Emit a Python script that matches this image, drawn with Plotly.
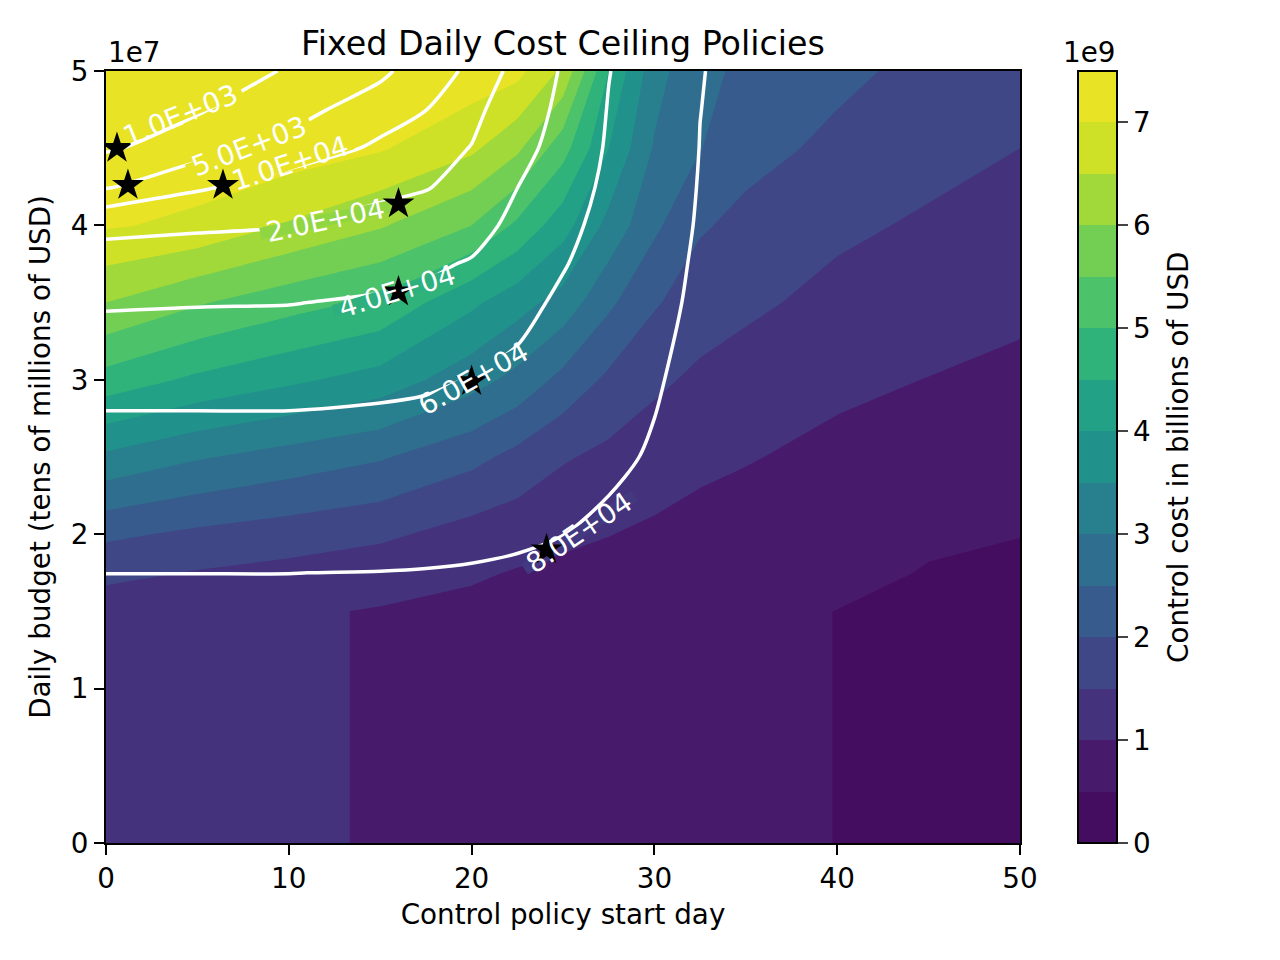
import numpy as np
import plotly.graph_objects as go

# control cost surface, billions of USD (rows follow cost_budgets, columns cost_days)
cost_days = [0, 5, 10, 15, 20, 22.5, 25, 27.5, 30, 32.5, 35, 40, 45, 50]
cost_budgets = [0, 1.5e7, 1.75e7, 2.0e7, 2.5e7, 3.0e7, 3.5e7, 4.0e7, 4.5e7, 5.0e7]
cost = [
    [1.25, 1.16, 1.06, 0.97, 0.88, 0.83, 0.78, 0.73, 0.69, 0.64, 0.59, 0.495, 0.41, 0.31],
    [1.25, 1.16, 1.06, 0.97, 0.88, 0.83, 0.78, 0.73, 0.69, 0.64, 0.59, 0.495, 0.41, 0.31],
    [1.62, 1.47, 1.35, 1.20, 1.06, 0.97, 0.92, 0.86, 0.80, 0.74, 0.68, 0.60, 0.48, 0.41],
    [2.10, 1.90, 1.75, 1.60, 1.30, 1.20, 1.08, 1.01, 0.93, 0.85, 0.79, 0.68, 0.55, 0.51],
    [3.40, 3.05, 2.80, 2.55, 2.15, 1.85, 1.55, 1.38, 1.22, 1.10, 1.03, 0.88, 0.75, 0.70],
    [4.80, 4.40, 4.10, 3.80, 3.20, 2.85, 2.35, 1.90, 1.60, 1.40, 1.28, 1.10, 0.99, 0.89],
    [6.00, 5.55, 5.20, 4.90, 4.10, 3.70, 3.30, 2.60, 2.05, 1.75, 1.60, 1.35, 1.22, 1.10],
    [7.05, 6.90, 6.45, 6.05, 5.50, 4.90, 4.20, 3.35, 2.60, 2.05, 1.88, 1.60, 1.43, 1.30],
    [7.30, 7.30, 7.28, 7.05, 6.60, 6.10, 5.20, 4.00, 2.95, 2.52, 2.15, 1.90, 1.67, 1.50],
    [7.45, 7.45, 7.42, 7.38, 7.30, 7.15, 6.40, 4.50, 3.20, 2.60, 2.42, 2.10, 1.88, 1.70],
]

# infections surface for the white contour lines
inf_days = [0, 5, 10, 15, 17.5, 20, 22.5, 25, 27.5, 30, 32.5, 35, 50]
inf_budgets = [0, 1.5e7, 1.75e7, 2.0e7, 2.5e7, 3.0e7, 3.5e7, 3.75e7, 4.0e7, 4.25e7, 4.5e7, 4.75e7, 5.0e7]
infections = [
    [90e3, 90e3, 90e3, 90e3, 90e3, 90e3, 90e3, 90e3, 90e3, 90e3, 90e3, 90e3, 91e3],
    [82e3, 82e3, 82e3, 82e3, 82.5e3, 83e3, 84e3, 85e3, 86e3, 87e3, 88e3, 89e3, 90.5e3],
    [79.95e3, 79.95e3, 79.95e3, 80.2e3, 80.5e3, 81e3, 82e3, 83e3, 84.5e3, 86e3, 87.5e3, 88.5e3, 90e3],
    [75e3, 75e3, 75e3, 75.5e3, 76e3, 77e3, 78e3, 79.9e3, 82e3, 84.5e3, 86.5e3, 88e3, 89.5e3],
    [66e3, 66e3, 66e3, 67e3, 68e3, 69e3, 71e3, 75e3, 78e3, 81e3, 85e3, 87e3, 89e3],
    [56e3, 56e3, 56e3, 57e3, 58e3, 60.5e3, 64e3, 69e3, 73e3, 79e3, 83.5e3, 86e3, 88.5e3],
    [38e3, 39e3, 39.5e3, 42e3, 44e3, 48e3, 55e3, 63e3, 69e3, 77e3, 82e3, 85e3, 88e3],
    [29e3, 30e3, 31e3, 34e3, 37e3, 41.5e3, 50e3, 59e3, 67.5e3, 76e3, 81.5e3, 84.5e3, 87.8e3],
    [15e3, 17.5e3, 19.5e3, 25e3, 29e3, 33e3, 45e3, 55e3, 66e3, 74.5e3, 81e3, 84.2e3, 87.5e3],
    [4.5e3, 9.0e3, 13e3, 16.5e3, 19e3, 26e3, 39.8e3, 50.5e3, 64e3, 73e3, 80.6e3, 83.8e3, 87.2e3],
    [600, 2.8e3, 6.5e3, 11e3, 14e3, 20.5e3, 34e3, 47e3, 62e3, 71.5e3, 80.2e3, 83.5e3, 87e3],
    [300, 700, 3.2e3, 7.5e3, 9.9e3, 16e3, 29e3, 44.5e3, 60.8e3, 70.5e3, 79.9e3, 83.2e3, 86.8e3],
    [150, 300, 1.1e3, 4.0e3, 7.5e3, 11e3, 24e3, 42e3, 59.5e3, 70e3, 79.6e3, 83e3, 86.5e3],
]
inf_levels = [1e3, 5e3, 1e4, 2e4, 4e4, 6e4, 8e4]

# optimal policies
star_days = [0.6, 1.2, 6.4, 16.0, 16.0, 20.0, 24.1]
star_budgets = [4.50e7, 4.26e7, 4.26e7, 4.14e7, 3.57e7, 2.99e7, 1.90e7]

# where matplotlib put the inline labels: (day, budget, angle)
label_spots = [(4.05, 4.715e7, 22), (7.8, 4.51e7, 21), (10.07, 4.40e7, 18),
               (11.98, 4.035e7, 12), (15.9, 3.57e7, 17), (20.1, 3.01e7, 29),
               (25.9, 2.01e7, 34)]

FONT = "DejaVu Sans"
FS = 27.8
W, H = 1280, 960
# page body adds 8px, so margins are pulled in by that much
L, T = 98, 63
PW, PH = 914, 772
R, B = W - L - PW, H - T - PH
PX_X = PW / 50.0
PX_Y = PH / 5e7

VIRIDIS = ['#440154', '#482475', '#414487', '#355f8d', '#2a788e', '#21918c',
           '#22a884', '#44bf70', '#7ad151', '#bddf26', '#fde725']


def hex2rgb(h):
    return [int(h[k:k + 2], 16) for k in (1, 3, 5)]


def viridis(t):
    pos = t * (len(VIRIDIS) - 1)
    i = min(int(pos), len(VIRIDIS) - 2)
    f = pos - i
    a, b = hex2rgb(VIRIDIS[i]), hex2rgb(VIRIDIS[i + 1])
    return 'rgb(%d,%d,%d)' % tuple(round(a[k] + f * (b[k] - a[k])) for k in range(3))


band_colors = [viridis((i + 0.5) / 15) for i in range(15)]
cscale = [[0, band_colors[0]]] + [[(i + 0.5) / 15, c] for i, c in enumerate(band_colors)] + [[1, band_colors[-1]]]


def cost_at(d, b):
    xs, ys, z = np.array(cost_days), np.array(cost_budgets), np.array(cost)
    i = int(np.clip(np.searchsorted(xs, d) - 1, 0, len(xs) - 2))
    j = int(np.clip(np.searchsorted(ys, b) - 1, 0, len(ys) - 2))
    tx = (d - xs[i]) / (xs[i + 1] - xs[i])
    ty = (b - ys[j]) / (ys[j + 1] - ys[j])
    return (z[j, i] * (1 - tx) * (1 - ty) + z[j, i + 1] * tx * (1 - ty)
            + z[j + 1, i] * (1 - tx) * ty + z[j + 1, i + 1] * tx * ty)


fig = go.Figure()

fig.add_trace(go.Contour(
    x=cost_days, y=cost_budgets, z=cost,
    zmin=0, zmax=7.5, autocontour=False,
    contours=dict(start=0.5, end=7.0, size=0.5, coloring='fill', showlines=False),
    colorscale=cscale,
    line=dict(width=0, smoothing=0),
    hoverinfo='skip',
    colorbar=dict(
        x=(972) / PW, xanchor='left', xpad=0,
        y=0.5, yanchor='middle', ypad=0, len=1, lenmode='fraction',
        thickness=39, outlinewidth=2, outlinecolor='black',
        tickvals=[0, 1, 2, 3, 4, 5, 6, 7], ticks='outside', ticklen=10, tickwidth=2,
        tickfont=dict(family=FONT, size=FS, color='black'),
    ),
))

for lvl in inf_levels:
    fig.add_trace(go.Contour(
        x=inf_days, y=inf_budgets, z=infections,
        autocontour=False,
        contours=dict(start=lvl, end=lvl, size=1, coloring='none'),
        line=dict(color='white', width=3.5, smoothing=0.8),
        showscale=False, hoverinfo='skip',
    ))

# clear the line under each inline label, like clabel does
for (d, b, ang) in label_spots:
    a, h = 66, 6
    ux, uy = np.cos(np.radians(ang)), np.sin(np.radians(ang))
    vx, vy = -uy, ux
    pts = [(a, h), (-a, h), (-a, -h), (a, -h), (a, h)]
    xs = [d + (p * ux + q * vx) / PX_X for p, q in pts]
    ys = [b + (p * uy + q * vy) / PX_Y for p, q in pts]
    band = min(int(cost_at(d, b) / 0.5), 14)
    fig.add_trace(go.Scatter(
        x=xs, y=ys, mode='lines', fill='toself', fillcolor=band_colors[band],
        line=dict(width=0), hoverinfo='skip', showlegend=False,
    ))

fig.add_trace(go.Scatter(
    x=star_days, y=star_budgets, mode='markers',
    marker=dict(symbol='star', size=24, color='black', line=dict(width=0)),
    hoverinfo='skip', showlegend=False,
))

annotations = []
for lvl, (d, b, ang) in zip(inf_levels, label_spots):
    annotations.append(dict(
        x=d, y=b, xref='x', yref='y', text='{:.1E}'.format(lvl), showarrow=False,
        xanchor='center', yanchor='middle',
        textangle=-ang, font=dict(family=FONT, size=FS, color='white'),
    ))
annotations += [
    dict(x=0, y=1, xref='paper', yref='paper', xanchor='left', yanchor='bottom',
         yshift=0, text='1e7', showarrow=False, font=dict(family=FONT, size=FS, color='black')),
    dict(x=1011 / PW, y=1, xref='paper', yref='paper', xanchor='right',
         yanchor='bottom', yshift=0, text='1e9', showarrow=False,
         font=dict(family=FONT, size=FS, color='black')),
    dict(x=1072 / PW, y=0.5, xref='paper', yref='paper', xanchor='center', yanchor='middle',
         text='Control cost in billions of USD', textangle=-90, showarrow=False,
         font=dict(family=FONT, size=FS, color='black')),
]

axis_common = dict(
    showgrid=False, zeroline=False, showline=True, mirror=True, automargin=False,
    linecolor='black', linewidth=2, ticks='outside', ticklen=10, tickwidth=2,
    tickcolor='black', tickfont=dict(family=FONT, size=FS, color='black'),
)

fig.update_layout(
    width=W, height=H,
    margin=dict(l=L, r=R, t=T, b=B, pad=0, autoexpand=False),
    paper_bgcolor='white', plot_bgcolor='white',
    showlegend=False,
    font=dict(family=FONT, size=FS, color='black'),
    title=dict(text='Fixed Daily Cost Ceiling Policies', x=0.5, xref='paper', xanchor='center',
               y=1, yref='paper', yanchor='bottom', pad=dict(b=16),
               font=dict(family=FONT, size=33.3, color='black')),
    xaxis=dict(range=[0, 50], tickvals=[0, 10, 20, 30, 40, 50],
               title=dict(text='Control policy start day', standoff=10,
                          font=dict(family=FONT, size=FS, color='black')),
               **axis_common),
    yaxis=dict(range=[0, 5e7], tickvals=[0, 1e7, 2e7, 3e7, 4e7, 5e7],
               ticktext=['0', '1', '2', '3', '4', '5'],
               title=dict(text='Daily budget (tens of millions of USD)', standoff=12,
                          font=dict(family=FONT, size=FS, color='black')),
               **axis_common),
    annotations=annotations,
)

fig.write_html("out.html")
